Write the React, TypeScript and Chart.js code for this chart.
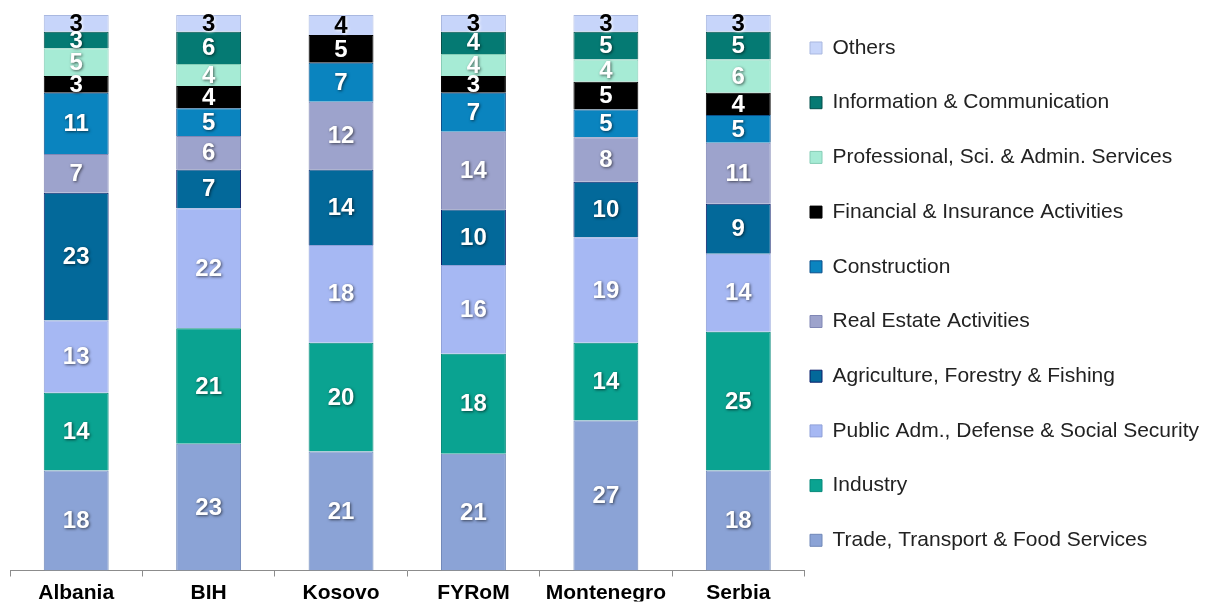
import React, { useEffect, useRef } from "react";
import { Chart, registerables } from "chart.js";

Chart.register(...registerables);

const categories = ["Albania", "BIH", "Kosovo", "FYRoM", "Montenegro", "Serbia"];
const trade = [18, 22.8, 21.4, 21, 27, 18];
const industry = [14, 20.8, 19.6, 18, 14, 25];
const publicAdm = [13, 21.6, 17.6, 16, 19, 14];
const agriculture = [23, 7, 13.6, 10, 10, 9];
const realEstate = [7, 6, 12.2, 14, 8, 11];
const construction = [11, 5, 7, 7, 5, 5];
const financial = [3, 4, 5, 3, 5, 4];
const professional = [5, 4, 0, 4, 4, 6];
const information = [3, 5.8, 0, 4, 5, 5];
const others = [3, 3, 3.6, 3, 3, 3];

const seriesNames = [
  "Trade, Transport & Food Services",
  "Industry",
  "Public Adm., Defense & Social Security",
  "Agriculture, Forestry & Fishing",
  "Real Estate Activities",
  "Construction",
  "Financial & Insurance Activities",
  "Professional, Sci. & Admin. Services",
  "Information & Communication",
  "Others",
];
const seriesValues = [
  trade, industry, publicAdm, agriculture, realEstate,
  construction, financial, professional, information, others,
];
const fillColors = [
  "#8BA3D6", "#0AA391", "#A6B8F3", "#03699A", "#9DA3CC",
  "#0A84BF", "#000000", "#A6EBD5", "#057A73", "#C7D5FA",
];
const edgeColors = [
  "#7088b8", "#07897a", "#8fa0d8", "#0b1f6b", "#8087b5",
  "#0a4f8a", "#000000", "#86cdb6", "#034f4a", "#a9b8e0",
];

const FONT = "'Liberation Sans', Arial, sans-serif";

const segmentLabels = {
  id: "segmentLabels",
  afterDatasetsDraw(chart: any) {
    const ctx = chart.ctx;
    ctx.save();
    ctx.font = `bold 24px ${FONT}`;
    ctx.textAlign = "center";
    ctx.textBaseline = "middle";
    chart.data.datasets.forEach((ds: any, di: number) => {
      const meta = chart.getDatasetMeta(di);
      meta.data.forEach((el: any, i: number) => {
        const v = ds.data[i];
        if (!v) return;
        const p = el.getProps(["x", "y", "base"], true);
        const cy = (p.y + p.base) / 2;
        const dark = di === seriesNames.length - 1;
        ctx.shadowColor = dark ? "rgba(255,255,255,0.9)" : "rgba(0,0,0,0.6)";
        ctx.shadowBlur = 3;
        ctx.shadowOffsetX = 1;
        ctx.shadowOffsetY = 1;
        ctx.fillStyle = dark ? "#000000" : "#ffffff";
        ctx.fillText(String(Math.round(v)), p.x, cy + 1);
      });
    });
    ctx.restore();
  },
};

export default function App() {
  const ref = useRef<HTMLCanvasElement>(null);

  useEffect(() => {
    document.body.style.margin = "0";
    const canvas = ref.current;
    if (!canvas) return;
    const defaultLabels = (Chart.defaults as any).plugins.legend.labels.generateLabels;
    const chart = new Chart(canvas, {
      type: "bar",
      data: {
        labels: categories,
        datasets: seriesNames.map((name, i) => ({
          label: name,
          data: seriesValues[i],
          backgroundColor: fillColors[i],
          borderColor: edgeColors[i],
          borderWidth: 1,
          barPercentage: 0.49,
          categoryPercentage: 1.0,
        })),
      },
      options: {
        animation: false,
        responsive: false,
        devicePixelRatio: 1,
        layout: { padding: { left: 10, top: 15, right: 0, bottom: 3.5 } },
        plugins: {
          tooltip: { enabled: false },
          legend: {
            position: "right",
            reverse: true,
            labels: {
              boxWidth: 12,
              boxHeight: 12,
              padding: 5.5,
              color: "#222222",
              font: { family: FONT, size: 21, lineHeight: 2.343 },
              generateLabels: (c: any) =>
                defaultLabels(c).map((it: any) => ({ ...it, text: [it.text] })),
            },
          },
        },
        scales: {
          x: {
            stacked: true,
            afterFit: (scale: any) => {
              scale.height = 31;
            },
            grid: {
              offset: true,
              drawOnChartArea: false,
              drawTicks: true,
              tickLength: 6,
              color: "#8c8c8c",
            },
            border: { color: "#8c8c8c" },
            ticks: {
              color: "#000000",
              padding: 4,
              font: { family: FONT, size: 21, weight: "bold" },
            },
          },
          y: {
            stacked: true,
            display: false,
            min: 0,
            max: 100,
          },
        },
      },
      plugins: [segmentLabels],
    });
    return () => chart.destroy();
  }, []);

  return (
    <div style={{ width: 1209, height: 605, background: "#ffffff" }}>
      <canvas ref={ref} width={1209} height={605} />
    </div>
  );
}
